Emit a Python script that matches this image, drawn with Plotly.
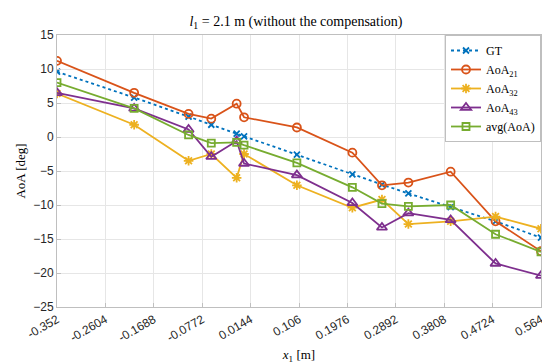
import plotly.graph_objects as go

x_pos = [-0.352, -0.206, -0.103, -0.060, -0.012, 0.002, 0.102, 0.207, 0.263, 0.313, 0.393, 0.478, 0.564]
gt = [9.6, 5.8, 3.0, 1.8, 0.5, 0.1, -2.6, -5.5, -7.0, -8.3, -10.3, -12.4, -14.8]
aoa21 = [11.2, 6.5, 3.4, 2.7, 4.9, 2.9, 1.4, -2.3, -7.1, -6.7, -5.1, -12.4, -16.8]
aoa32 = [6.4, 1.8, -3.5, -2.5, -6.0, -2.5, -7.1, -10.4, -9.2, -12.8, -12.4, -11.7, -13.5]
aoa43 = [6.5, 4.2, 1.1, -2.9, -0.6, -3.9, -5.6, -9.7, -13.3, -11.2, -12.2, -18.6, -20.4]
avg = [8.0, 4.2, 0.3, -0.9, -0.8, -1.2, -3.8, -7.4, -9.8, -10.2, -10.0, -14.3, -16.9]

tick_vals = [-0.352, -0.2604, -0.1688, -0.0772, 0.0144, 0.106, 0.1976, 0.2892, 0.3808, 0.4724, 0.564]
tick_text = ["-0.352", "-0.2604", "-0.1688", "-0.0772", "0.0144", "0.106", "0.1976", "0.2892", "0.3808", "0.4724", "0.564"]
y_ticks = [-25, -20, -15, -10, -5, 0, 5, 10, 15]

series = [
    ("GT", gt, "#0072BD", "x-thin-open", "dot", 6),
    ("AoA<sub>21</sub>", aoa21, "#D95319", "circle-open", "solid", 8),
    ("AoA<sub>32</sub>", aoa32, "#EDB120", "asterisk-open", "solid", 8),
    ("AoA<sub>43</sub>", aoa43, "#7E2F8E", "triangle-up-open", "solid", 9),
    ("avg(AoA)", avg, "#77AC30", "square-open", "solid", 7),
]

fig = go.Figure()
for name, vals, color, sym, dash, size in series:
    fig.add_trace(go.Scatter(
        x=x_pos, y=vals, name=name, mode="lines+markers",
        line=dict(color=color, width=1.8, dash=dash),
        marker=dict(symbol=sym, size=size, color=color, line=dict(color=color, width=1.8)),
    ))

axis_common = dict(
    showgrid=True, gridcolor="#E6E6E6", gridwidth=1,
    showline=True, linecolor="#BFBFBF", linewidth=1, mirror=True,
    ticks="inside", ticklen=4, tickcolor="#BFBFBF",
    tickfont=dict(family="Liberation Sans, Arial", size=12, color="#262626"),
    zeroline=False,
)

serif = "Liberation Serif, Times New Roman, serif"

fig.update_layout(
    width=550, height=364,
    margin=dict(l=43, r=16, t=27, b=60),
    paper_bgcolor="white", plot_bgcolor="white",
    title=dict(text="<i>l</i><sub>1</sub> = 2.1 m (without the compensation)",
               x=288 / 550, xanchor="center", y=0.963, yanchor="middle",
               font=dict(family=serif, size=14, color="#000")),
    xaxis=dict(axis_common, range=[-0.352, 0.564], tickvals=tick_vals, ticktext=tick_text,
               tickangle=-30,
               title=dict(text="<i>x</i><sub>1</sub> [m]", standoff=6,
                          font=dict(family=serif, size=13, color="#000"))),
    yaxis=dict(axis_common, range=[-25, 15], tickvals=y_ticks,
               title=dict(text="AoA [deg]", standoff=4,
                          font=dict(family=serif, size=13, color="#000"))),
    legend=dict(x=1, y=1, xanchor="right", yanchor="top",
                bgcolor="white", bordercolor="#BFBFBF", borderwidth=1,
                font=dict(family=serif, size=12, color="#000"),
                tracegroupgap=0, itemwidth=30),
    showlegend=True,
)

fig.write_html("out.html")
